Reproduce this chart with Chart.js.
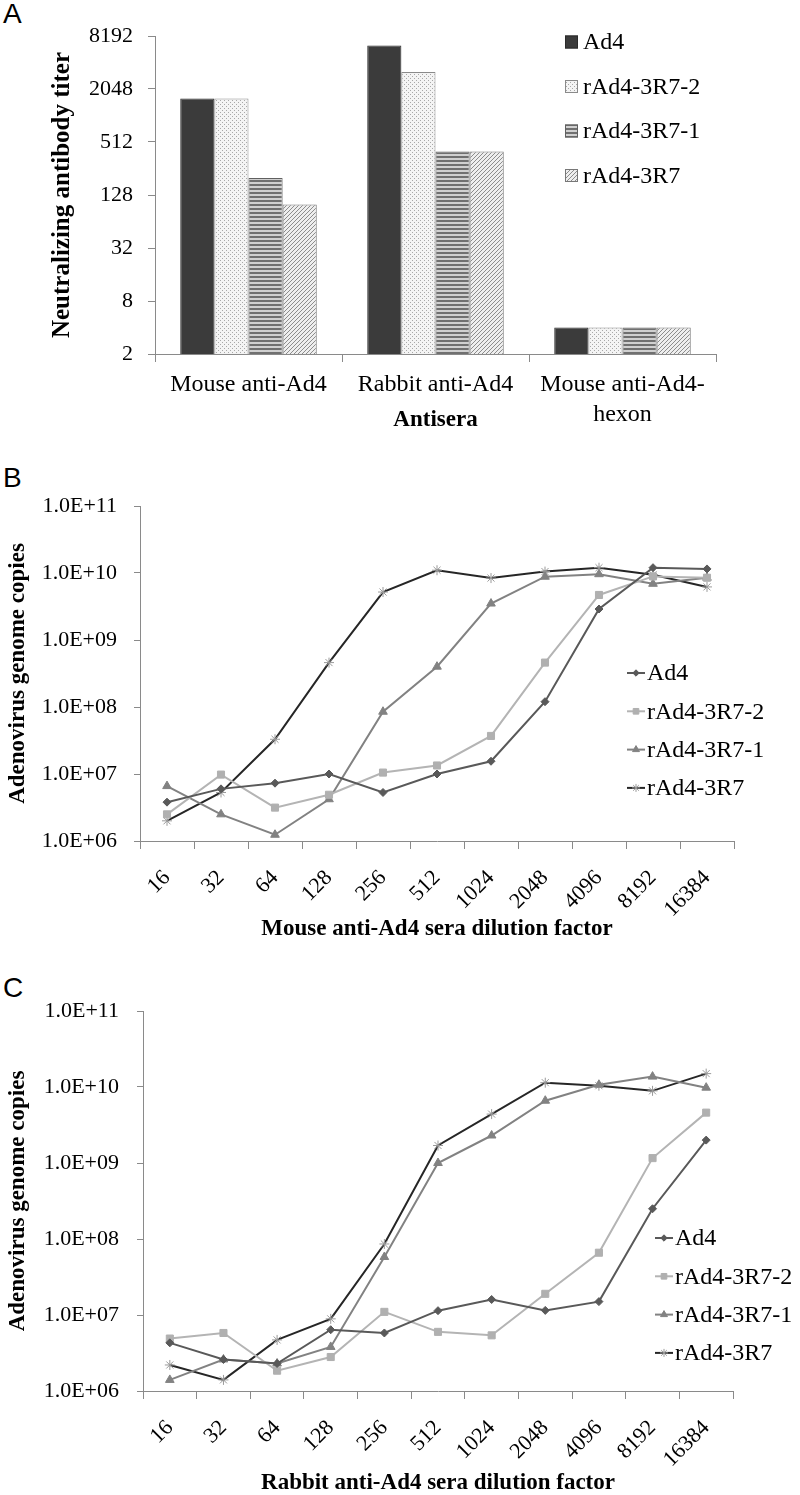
<!DOCTYPE html>
<html>
<head>
<meta charset="utf-8">
<script src="https://cdn.jsdelivr.net/npm/chart.js@4.4.1/dist/chart.umd.min.js"></script>
<style>
  body { margin: 0; width: 800px; height: 1495px; background: #fff; position: relative; overflow: hidden; }
  .panel { position: absolute; left: 0; width: 800px; }
  .tag { position: absolute; left: 3px; font: 28px "Liberation Sans", Arial, sans-serif; line-height: 28px; color: #000; }
</style>
</head>
<body>
<div class="tag" style="top:0px">A</div>
<div class="tag" style="top:464px">B</div>
<div class="tag" style="top:974px">C</div>
<div class="panel" style="top:0px;height:432px"><canvas id="chartA"></canvas></div>
<div class="panel" style="top:470px;height:471px"><canvas id="chartB"></canvas></div>
<div class="panel" style="top:960px;height:535px"><canvas id="chartC"></canvas></div>
<script>
// Panel A: neutralizing titers
const antisera = ['Mouse anti-Ad4', 'Rabbit anti-Ad4', ['Mouse anti-Ad4-', 'hexon']];
const viruses = ['Ad4', 'rAd4-3R7-2', 'rAd4-3R7-1', 'rAd4-3R7'];
const titerAd4 = [1600, 6400, 4];
const titer3R72 = [1600, 3200, 4];
const titer3R71 = [200, 400, 4];
const titer3R7 = [100, 400, 4];
const titerTicks = [2, 8, 32, 128, 512, 2048, 8192];

// Panels B and C: genome copies vs dilution
const dilutions = ['16', '32', '64', '128', '256', '512', '1024', '2048', '4096', '8192', '16384'];
const mouseAd4 = [3.8e6, 6.0e6, 7.3e6, 1.0e7, 5.3e6, 1.0e7, 1.55e7, 1.2e8, 2.9e9, 1.2e10, 1.15e10];
const mouse3R72 = [2.5e6, 9.8e6, 3.15e6, 4.9e6, 1.05e7, 1.34e7, 3.7e7, 4.6e8, 4.7e9, 8.9e9, 8.5e9];
const mouse3R71 = [6.6e6, 2.5e6, 1.24e6, 4.2e6, 8.5e7, 4.0e8, 3.5e9, 8.8e9, 9.6e9, 6.9e9, 8.5e9];
const mouse3R7 = [2.0e6, 5.3e6, 3.3e7, 4.6e8, 5.2e9, 1.1e10, 8.4e9, 1.05e10, 1.2e10, 9.4e9, 6.2e9];
const rabbitAd4 = [4.3e6, 2.6e6, 2.3e6, 6.4e6, 5.8e6, 1.14e7, 1.6e7, 1.15e7, 1.5e7, 2.5e8, 2.0e9];
const rabbit3R72 = [4.9e6, 5.8e6, 1.85e6, 2.8e6, 1.1e7, 6.0e6, 5.4e6, 1.9e7, 6.6e7, 1.16e9, 4.6e9];
const rabbit3R71 = [1.4e6, 2.6e6, 2.3e6, 3.8e6, 5.8e7, 1.0e9, 2.3e9, 6.6e9, 1.07e10, 1.37e10, 9.8e9];
const rabbit3R7 = [2.2e6, 1.4e6, 4.7e6, 8.9e6, 8.6e7, 1.7e9, 4.4e9, 1.14e10, 1.04e10, 8.9e9, 1.5e10];
const copyTicks = [1e6, 1e7, 1e8, 1e9, 1e10, 1e11];
const copyTickLabels = ['1.0E+06', '1.0E+07', '1.0E+08', '1.0E+09', '1.0E+10', '1.0E+11'];

const serif = "'Liberation Serif', 'Times New Roman', serif";
Chart.defaults.font.family = serif;
Chart.defaults.color = '#000';
Chart.defaults.animation = false;

// fill patterns for the bars
function pattern(kind) {
    const c = document.createElement('canvas');
    c.width = 4; c.height = 4;
    const g = c.getContext('2d');
    if (kind === 'dots') {
        g.fillStyle = '#f4f4f4'; g.fillRect(0, 0, 4, 4);
        g.fillStyle = '#a8a8a8'; g.fillRect(0, 0, 1, 1); g.fillRect(2, 2, 1, 1);
    } else if (kind === 'stripes') {
        g.fillStyle = '#d0d0d0'; g.fillRect(0, 0, 4, 4);
        g.fillStyle = '#707070'; g.fillRect(0, 0, 4, 2);
    } else {
        g.fillStyle = '#eeeeee'; g.fillRect(0, 0, 4, 4);
        g.fillStyle = '#8c8c8c';
        g.fillRect(0, 3, 1, 1); g.fillRect(1, 2, 1, 1); g.fillRect(2, 1, 1, 1); g.fillRect(3, 0, 1, 1);
    }
    return g.createPattern(c, 'repeat');
}

// legend drawn inside the plot like the original
const innerLegend = {
    id: 'innerLegend',
    afterDraw(chart, args, o) {
        const ctx = chart.ctx;
        ctx.save();
        ctx.font = '24px ' + serif;
        ctx.textBaseline = 'middle';
        chart.data.datasets.forEach((ds, i) => {
            const y = o.y + i * o.gap;
            if (o.kind === 'box') {
                ctx.fillStyle = ds.backgroundColor;
                ctx.fillRect(o.x, y - 6.5, 13, 13);
                ctx.strokeStyle = ds.borderColor;
                ctx.lineWidth = 1;
                ctx.strokeRect(o.x + 0.5, y - 6, 12, 12);
            } else {
                ctx.strokeStyle = ds.borderColor;
                ctx.lineWidth = 2;
                ctx.beginPath(); ctx.moveTo(o.x, y); ctx.lineTo(o.x + 18, y); ctx.stroke();
                ctx.fillStyle = ds.pointBackgroundColor;
                ctx.strokeStyle = ds.pointBorderColor;
                ctx.lineWidth = 1;
                Chart.helpers.drawPoint(ctx, { pointStyle: ds.pointStyle, radius: ds.pointRadius * 0.8, rotation: 0, borderWidth: 1 }, o.x + 9, y);
            }
            ctx.fillStyle = '#000';
            ctx.fillText(ds.label, o.x + o.textOffset, y + 1);
        });
        ctx.restore();
    }
};

function fixWidth(w) { return s => { s.width = w; }; }
function fixHeight(h) { return s => { s.height = h; }; }
const axisGrey = '#8a8a8a';

new Chart(document.getElementById('chartA'), {
    type: 'bar',
    data: {
        labels: antisera,
        datasets: [
            { label: viruses[0], data: titerAd4, backgroundColor: '#3b3b3b', borderColor: '#2a2a2a' },
            { label: viruses[1], data: titer3R72, backgroundColor: pattern('dots'), borderColor: '#8a8a8a' },
            { label: viruses[2], data: titer3R71, backgroundColor: pattern('stripes'), borderColor: '#606060' },
            { label: viruses[3], data: titer3R7, backgroundColor: pattern('diag'), borderColor: '#777' }
        ].map(d => Object.assign(d, { borderWidth: 1, categoryPercentage: 0.73, barPercentage: 1 }))
    },
    options: {
        responsive: true,
        maintainAspectRatio: false,
        layout: { padding: { left: 45, right: 84, top: 36, bottom: 0 } },
        plugins: {
            legend: { display: false },
            tooltip: { enabled: false },
            innerLegend: { kind: 'box', x: 565, y: 42, gap: 44.5, textOffset: 18 }
        },
        scales: {
            x: {
                afterFit: fixHeight(78),
                border: { color: axisGrey },
                grid: { offset: true, drawOnChartArea: false, tickLength: 8, color: axisGrey },
                ticks: { font: { size: 24, lineHeight: 1.25 }, padding: 8, maxRotation: 0 },
                title: { display: true, text: 'Antisera', font: { size: 23, weight: 'bold', lineHeight: 1 }, padding: { top: 0, bottom: 0 } }
            },
            y: {
                type: 'logarithmic',
                min: 2,
                max: 8192,
                afterFit: fixWidth(110),
                afterBuildTicks: s => { s.ticks = titerTicks.map(v => ({ value: v })); },
                border: { color: axisGrey },
                grid: { drawOnChartArea: false, tickLength: 7, color: axisGrey },
                ticks: { font: { size: 22 }, padding: 15, callback: v => String(v) },
                title: { display: true, text: 'Neutralizing antibody titer', font: { size: 25, weight: 'bold', lineHeight: 1.2 }, padding: { top: 3, bottom: 4 } }
            }
        }
    },
    plugins: [innerLegend]
});

function lineSets(ad4, r72, r71, r7) {
    return [
        { label: viruses[0], data: ad4, borderColor: '#595959', pointBackgroundColor: '#595959', pointBorderColor: '#595959', pointStyle: 'rectRot', pointRadius: 4 },
        { label: viruses[1], data: r72, borderColor: '#b4b4b4', pointBackgroundColor: '#b0b0b0', pointBorderColor: '#b0b0b0', pointStyle: 'rect', pointRadius: 5 },
        { label: viruses[2], data: r71, borderColor: '#828282', pointBackgroundColor: '#828282', pointBorderColor: '#828282', pointStyle: 'triangle', pointRadius: 5 },
        { label: viruses[3], data: r7, borderColor: '#262626', pointBackgroundColor: '#9a9a9a', pointBorderColor: '#9a9a9a', pointStyle: 'star', pointRadius: 5 }
    ].map(d => Object.assign(d, { borderWidth: 2, pointBorderWidth: 1, tension: 0, fill: false }));
}

function copiesChart(id, sets, cfg) {
    new Chart(document.getElementById(id), {
        type: 'line',
        data: { labels: dilutions, datasets: sets },
        options: {
            responsive: true,
            maintainAspectRatio: false,
            layout: { padding: { left: 0, right: cfg.right, top: cfg.top, bottom: 0 } },
            plugins: {
                legend: { display: false },
                tooltip: { enabled: false },
                innerLegend: { kind: 'line', x: cfg.legendX, y: cfg.legendY, gap: 38.3, textOffset: 20 }
            },
            scales: {
                x: {
                    offset: true,
                    afterFit: fixHeight(cfg.xHeight),
                    border: { color: axisGrey },
                    grid: { offset: true, drawOnChartArea: false, tickLength: 8, color: axisGrey },
                    ticks: { font: { size: 22 }, padding: 16, minRotation: 45, maxRotation: 45, autoSkip: false },
                    title: { display: true, text: cfg.xTitle, font: { size: 23, weight: 'bold', lineHeight: 1 }, padding: { top: 0, bottom: 0 } }
                },
                y: {
                    type: 'logarithmic',
                    min: 1e6,
                    max: 1e11,
                    afterFit: fixWidth(cfg.yWidth),
                    afterBuildTicks: s => { s.ticks = copyTicks.map(v => ({ value: v })); },
                    border: { color: axisGrey },
                    grid: { drawOnChartArea: false, tickLength: 6, color: axisGrey },
                    ticks: { font: { size: 22 }, padding: cfg.yPad, callback: v => copyTickLabels[copyTicks.indexOf(v)] },
                    title: { display: true, text: 'Adenovirus genome copies', font: { size: 23, weight: 'bold', lineHeight: 1.2 }, padding: { top: 4, bottom: 4 } }
                }
            }
        },
        plugins: [innerLegend]
    });
}

copiesChart('chartB', lineSets(mouseAd4, mouse3R72, mouse3R71, mouse3R7), {
    right: 66, top: 36, xHeight: 100, yWidth: 140, yPad: 17,
    legendX: 627, legendY: 203, xTitle: 'Mouse anti-Ad4 sera dilution factor'
});

copiesChart('chartC', lineSets(rabbitAd4, rabbit3R72, rabbit3R71, rabbit3R7), {
    right: 67, top: 51, xHeight: 104, yWidth: 143, yPad: 18,
    legendX: 655, legendY: 278, xTitle: 'Rabbit anti-Ad4 sera dilution factor'
});
</script>
</body>
</html>
